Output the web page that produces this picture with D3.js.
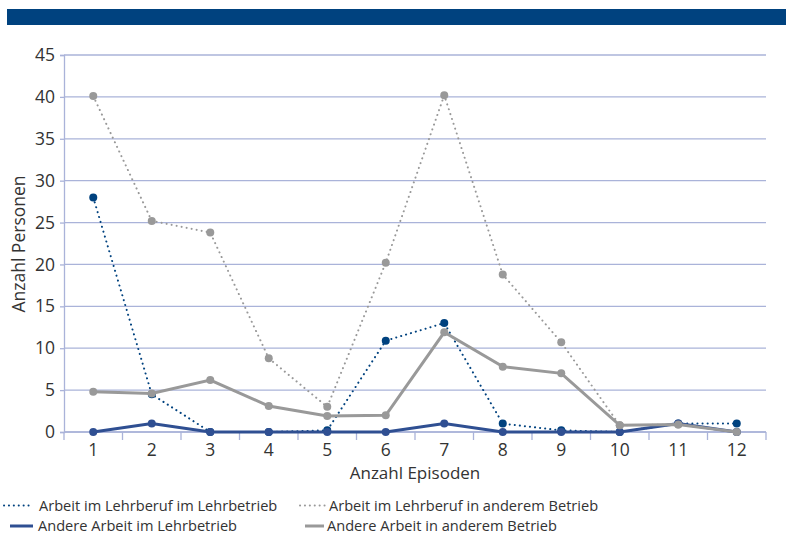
<!DOCTYPE html>
<html>
<head>
<meta charset="utf-8">
<script src="https://cdn.jsdelivr.net/npm/d3@7"></script>
<style>
  body { margin: 0; background: #fff; }
  svg text { font-family: "Open Sans", "Noto Sans", sans-serif; fill: #333; }
</style>
</head>
<body>
<svg id="chart" width="786" height="534"></svg>
<script>
// Number of episodes (x categories)
const episodes = [1, 2, 3, 4, 5, 6, 7, 8, 9, 10, 11, 12];
const yTicks = [0, 5, 10, 15, 20, 25, 30, 35, 40, 45];

// Persons per number of episodes
const lehrberufLehrbetrieb = [28, 4.5, 0, 0, 0.2, 10.9, 13, 1, 0.2, 0, 1, 1];
const lehrberufAnderer = [40.1, 25.2, 23.8, 8.8, 3, 20.2, 40.2, 18.8, 10.7, 0.8, 0.9, 0];
const andereLehrbetrieb = [0, 1, 0, 0, 0, 0, 1, 0, 0, 0, 1, 0];
const andereAnderer = [4.8, 4.6, 6.2, 3.1, 1.9, 2, 11.9, 7.8, 7, 0.8, 0.9, 0];

const seriesNames = [
  "Arbeit im Lehrberuf im Lehrbetrieb",
  "Arbeit im Lehrberuf in anderem Betrieb",
  "Andere Arbeit im Lehrbetrieb",
  "Andere Arbeit in anderem Betrieb"
];

const navy = "#00427f";
const blue = "#2f4f92";
const grey = "#999999";
const gridColor = "#aab3d9";

const series = [
  { name: seriesNames[0], values: lehrberufLehrbetrieb, color: navy, dotted: true, width: 2 },
  { name: seriesNames[1], values: lehrberufAnderer, color: grey, dotted: true, width: 2 },
  { name: seriesNames[2], values: andereLehrbetrieb, color: blue, dotted: false, width: 3 },
  { name: seriesNames[3], values: andereAnderer, color: grey, dotted: false, width: 3 }
];

const svg = d3.select("#chart");

// header band
svg.append("rect").attr("x", 7).attr("y", 9).attr("width", 779).attr("height", 16).attr("fill", "#00427f");

const plotLeft = 64, plotRight = 766, plotTop = 55, plotBottom = 432;

const x = d3.scaleBand().domain(episodes).range([plotLeft, plotRight]);
const y = d3.scaleLinear().domain([0, 45]).range([plotBottom, plotTop]);

// horizontal gridlines
svg.append("g").selectAll("line").data(yTicks).join("line")
  .attr("x1", plotLeft).attr("x2", plotRight)
  .attr("y1", d => y(d)).attr("y2", d => y(d))
  .attr("stroke", gridColor).attr("stroke-width", 1.3);

// y axis
const yAxis = svg.append("g").attr("transform", `translate(${plotLeft},0)`)
  .call(d3.axisLeft(y).tickValues(yTicks).tickSize(4).tickPadding(5));
yAxis.select(".domain").attr("stroke", gridColor).attr("stroke-width", 1.3);
yAxis.selectAll(".tick line").attr("stroke", gridColor).attr("stroke-width", 1.3);
yAxis.selectAll("text").attr("font-size", 17.5);

// x axis with ticks at category boundaries
const xAxisG = svg.append("g").attr("transform", `translate(0,${plotBottom})`);
xAxisG.append("line").attr("x1", plotLeft).attr("x2", plotRight).attr("stroke", gridColor).attr("stroke-width", 1.3);
const boundaries = episodes.map(e => x(e)).concat([x(episodes[episodes.length - 1]) + x.bandwidth()]);
xAxisG.selectAll("line.tk").data(boundaries).join("line").attr("class", "tk")
  .attr("x1", d => d).attr("x2", d => d).attr("y1", 0).attr("y2", 8)
  .attr("stroke", gridColor).attr("stroke-width", 1.3);
xAxisG.selectAll("text").data(episodes).join("text")
  .attr("x", d => x(d) + x.bandwidth() / 2).attr("y", 23.5)
  .attr("text-anchor", "middle").attr("font-size", 17.5).text(d => d);

// axis titles
svg.append("text").attr("x", 415).attr("y", 479).attr("text-anchor", "middle")
  .attr("font-size", 17).text("Anzahl Episoden");
svg.append("text").attr("transform", "translate(25,244) rotate(-90)").attr("text-anchor", "middle")
  .attr("font-size", 17.5).text("Anzahl Personen");

const cx = (d, i) => x(episodes[i]) + x.bandwidth() / 2;
const line = d3.line().x(cx).y(d => y(d));

series.forEach(s => {
  const g = svg.append("g");
  g.append("path").datum(s.values).attr("d", line)
    .attr("fill", "none").attr("stroke", s.color).attr("stroke-width", s.width)
    .attr("stroke-linecap", s.dotted ? "round" : "butt")
    .attr("stroke-dasharray", s.dotted ? "0.1 5" : null);
  g.selectAll("circle").data(s.values).join("circle")
    .attr("cx", cx).attr("cy", d => y(d)).attr("r", 4).attr("fill", s.color);
});

// legend: [sample start, sample end, text x, baseline]
const legendPos = [[4, 33, 39, 510.5], [300, 327, 329, 510.5], [10, 33, 38, 531], [305, 324, 327, 531]];
series.forEach((s, i) => {
  const [x1, x2, tx, ly] = legendPos[i];
  svg.append("line").attr("x1", x1).attr("x2", x2).attr("y1", ly - 5).attr("y2", ly - 5)
    .attr("stroke", s.color).attr("stroke-width", s.dotted ? 2 : 3)
    .attr("stroke-linecap", s.dotted ? "round" : "butt")
    .attr("stroke-dasharray", s.dotted ? "0.1 4.8" : null);
  svg.append("text").attr("x", tx).attr("y", ly).attr("font-size", 14.6).text(s.name);
});
</script>
</body>
</html>
